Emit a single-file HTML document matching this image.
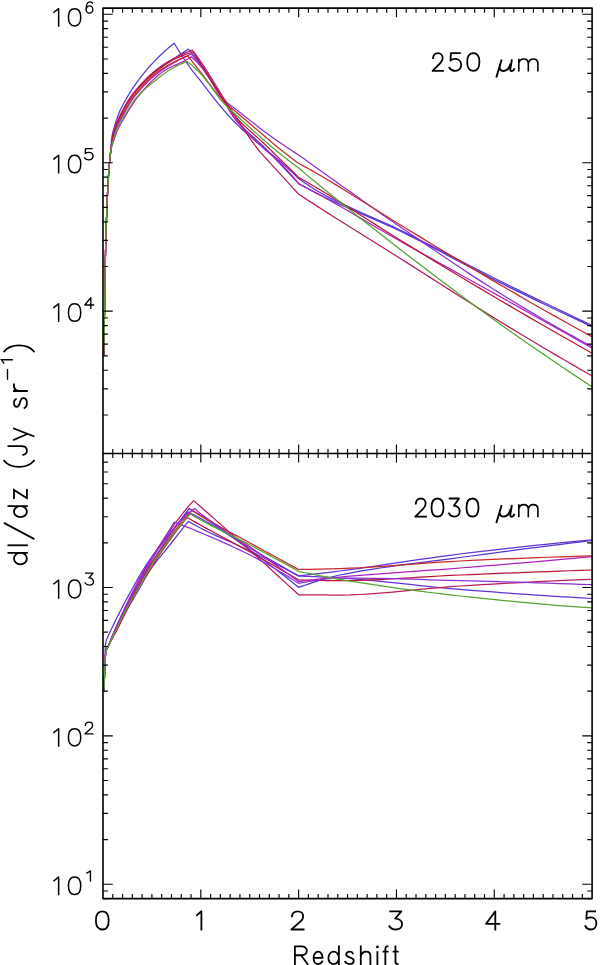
<!DOCTYPE html><html><head><meta charset="utf-8"><style>html,body{margin:0;padding:0;background:#fff;overflow:hidden;width:600px;height:965px;}svg{display:block;}text{font-family:"Liberation Sans",sans-serif;fill:#000;}</style></head><body>
<svg width="600" height="965" viewBox="0 0 600 965">
<rect width="600" height="965" fill="#fff"/>
<defs><clipPath id="cu"><rect x="103.0" y="8.2" width="489.1" height="445.4"/></clipPath>
<clipPath id="cl"><rect x="103.0" y="453.5" width="489.1" height="445.1"/></clipPath></defs>
<g clip-path="url(#cu)" fill="none" stroke-width="1.25" stroke-linejoin="round">
<polyline stroke="#6034d4" points="103.80,356.00 103.82,354.95 103.84,353.88 103.86,352.81 103.88,351.73 103.90,350.64 103.92,349.54 103.94,348.42 103.96,347.30 103.98,346.15 104.00,345.00 104.04,342.64 104.08,340.23 104.12,337.76 104.16,335.25 104.20,332.72 104.24,330.17 104.28,327.61 104.32,325.06 104.36,322.52 104.40,320.00 104.44,317.51 104.48,315.03 104.52,312.56 104.56,310.09 104.60,307.62 104.64,305.14 104.68,302.64 104.72,300.12 104.76,297.58 104.80,295.00 104.84,292.34 104.88,289.57 104.92,286.74 104.96,283.87 105.00,281.01 105.04,278.19 105.08,275.44 105.12,272.80 105.16,270.31 105.20,268.00 105.25,265.30 105.30,262.70 105.35,260.21 105.40,257.80 105.45,255.48 105.50,253.25 105.55,251.09 105.60,249.00 105.65,246.97 105.70,245.00 105.76,242.71 105.82,240.51 105.88,238.38 105.94,236.32 106.00,234.32 106.06,232.38 106.12,230.48 106.18,228.62 106.24,226.80 106.30,225.00 106.41,221.74 106.52,218.52 106.63,215.35 106.74,212.25 106.85,209.24 106.96,206.32 107.07,203.53 107.18,200.87 107.29,198.35 107.40,196.00 107.59,192.17 107.78,188.49 107.97,184.97 108.16,181.61 108.35,178.42 108.54,175.39 108.73,172.53 108.92,169.85 109.11,167.33 109.30,165.00 109.46,163.23 109.62,161.66 109.78,160.24 109.94,158.92 110.10,157.64 110.26,156.35 110.42,155.00 110.58,153.52 110.74,151.87 110.90,150.00 110.96,149.16 111.02,148.16 111.08,147.06 111.14,145.89 111.20,144.70 111.26,143.53 111.32,142.44 111.38,141.45 111.44,140.63 111.50,140.00 111.70,138.41 111.90,137.04 112.10,135.85 112.30,134.81 112.50,133.88 112.70,133.05 112.90,132.28 113.10,131.53 113.30,130.78 113.50,130.00 113.80,128.81 114.10,127.69 114.40,126.61 114.70,125.58 115.00,124.59 115.30,123.63 115.60,122.70 115.90,121.79 116.20,120.89 116.50,120.00 116.88,118.89 117.26,117.79 117.64,116.72 118.02,115.67 118.40,114.65 118.78,113.66 119.16,112.69 119.54,111.76 119.92,110.86 120.30,110.00 120.83,108.85 121.36,107.76 121.89,106.70 122.42,105.69 122.95,104.70 123.48,103.74 124.01,102.80 124.54,101.87 125.07,100.94 125.60,100.00 126.20,98.94 126.80,97.89 127.40,96.86 128.00,95.84 128.60,94.83 129.20,93.83 129.80,92.85 130.40,91.88 131.00,90.93 131.60,90.00 132.30,88.93 133.00,87.88 133.70,86.85 134.40,85.83 135.10,84.83 135.80,83.84 136.50,82.86 137.20,81.90 137.90,80.94 138.60,80.00 139.39,78.94 140.18,77.90 140.97,76.87 141.76,75.84 142.55,74.84 143.34,73.84 144.13,72.86 144.92,71.89 145.71,70.94 146.50,70.00 147.41,68.93 148.32,67.88 149.23,66.84 150.14,65.81 151.05,64.80 151.96,63.80 152.87,62.83 153.78,61.86 154.69,60.92 155.60,60.00 157.46,58.15 159.32,56.32 161.18,54.53 163.04,52.78 164.90,51.06 166.76,49.39 168.62,47.76 170.48,46.19 172.34,44.67 174.20,43.20 176.17,46.52 178.15,49.76 180.12,52.91 182.10,55.98 184.07,58.98 186.05,61.89 188.03,64.73 190.00,67.50 191.25,69.19 192.50,70.83 193.75,72.42 195.00,73.98 196.25,75.53 197.50,77.07 198.75,78.62 200.00,80.20 202.43,83.31 204.85,86.47 207.28,89.63 209.70,92.80 212.12,95.94 214.55,99.03 216.97,102.06 219.40,105.00 221.35,107.32 223.30,109.62 225.25,111.89 227.20,114.12 229.15,116.31 231.10,118.44 233.05,120.51 235.00,122.50 238.75,126.17 242.50,129.69 246.25,133.09 250.00,136.38 253.75,139.59 257.50,142.75 261.25,145.88 265.00,149.00 266.25,150.03 267.50,151.02 268.75,152.01 270.00,152.98 271.25,153.96 272.50,154.95 273.75,155.96 275.00,157.00 277.95,159.52 280.91,162.08 283.87,164.70 286.82,167.36 289.77,170.08 292.73,172.86 295.69,175.70 298.64,178.60 300.78,180.07 302.91,181.55 305.05,183.01 307.18,184.46 309.32,185.89 311.46,187.29 313.59,188.66 315.73,189.99 317.86,191.27 320.00,192.50 328.00,196.84 336.00,200.91 344.00,204.76 352.00,208.44 360.00,212.00 368.00,215.50 376.00,219.00 384.00,222.55 392.00,226.19 400.00,230.00 410.00,234.93 420.00,239.96 430.00,245.06 440.00,250.21 450.00,255.40 460.00,260.59 470.00,265.77 480.00,270.91 490.00,275.99 500.00,281.00 509.21,285.56 518.42,290.09 527.63,294.60 536.84,299.08 546.05,303.55 555.26,307.98 564.47,312.40 573.68,316.79 582.89,321.16 592.10,325.50"/>
<polyline stroke="#5434d0" points="103.80,356.00 103.82,354.95 103.84,353.88 103.86,352.81 103.88,351.73 103.90,350.64 103.92,349.54 103.94,348.42 103.96,347.30 103.98,346.15 104.00,345.00 104.04,342.64 104.08,340.23 104.12,337.76 104.16,335.25 104.20,332.72 104.24,330.17 104.28,327.61 104.32,325.06 104.36,322.52 104.40,320.00 104.44,317.51 104.48,315.03 104.52,312.56 104.56,310.09 104.60,307.62 104.64,305.14 104.68,302.64 104.72,300.12 104.76,297.58 104.80,295.00 104.84,292.34 104.88,289.57 104.92,286.74 104.96,283.87 105.00,281.01 105.04,278.19 105.08,275.44 105.12,272.80 105.16,270.31 105.20,268.00 105.25,265.30 105.30,262.70 105.35,260.21 105.40,257.80 105.45,255.48 105.50,253.25 105.55,251.09 105.60,249.00 105.65,246.97 105.70,245.00 105.76,242.71 105.82,240.51 105.88,238.38 105.94,236.32 106.00,234.32 106.06,232.38 106.12,230.48 106.18,228.62 106.24,226.80 106.30,225.00 106.41,221.74 106.52,218.52 106.63,215.35 106.74,212.25 106.85,209.24 106.96,206.32 107.07,203.53 107.18,200.87 107.29,198.35 107.40,196.00 107.59,192.17 107.78,188.49 107.97,184.97 108.16,181.61 108.35,178.42 108.54,175.39 108.73,172.53 108.92,169.85 109.11,167.33 109.30,165.00 109.46,163.18 109.62,161.47 109.78,159.87 109.94,158.35 110.10,156.90 110.26,155.49 110.42,154.12 110.58,152.76 110.74,151.39 110.90,150.00 111.02,148.93 111.14,147.84 111.26,146.73 111.38,145.64 111.50,144.57 111.62,143.53 111.74,142.54 111.86,141.61 111.98,140.76 112.10,140.00 112.33,138.69 112.56,137.47 112.79,136.33 113.02,135.26 113.25,134.26 113.48,133.32 113.71,132.44 113.94,131.59 114.17,130.78 114.40,130.00 114.78,128.77 115.16,127.61 115.54,126.52 115.92,125.49 116.30,124.51 116.68,123.56 117.06,122.65 117.44,121.76 117.82,120.88 118.20,120.00 118.69,118.88 119.18,117.80 119.67,116.75 120.16,115.72 120.65,114.72 121.14,113.74 121.63,112.78 122.12,111.84 122.61,110.92 123.10,110.00 123.69,108.91 124.28,107.84 124.87,106.79 125.46,105.75 126.05,104.74 126.64,103.74 127.23,102.77 127.82,101.82 128.41,100.90 129.00,100.00 129.75,98.89 130.50,97.81 131.25,96.75 132.00,95.73 132.75,94.72 133.50,93.74 134.25,92.78 135.00,91.83 135.75,90.91 136.50,90.00 137.42,88.91 138.34,87.83 139.26,86.78 140.18,85.75 141.10,84.74 142.02,83.76 142.94,82.79 143.86,81.84 144.78,80.91 145.70,80.00 146.83,78.90 147.96,77.82 149.09,76.76 150.22,75.72 151.35,74.70 152.48,73.70 153.61,72.73 154.74,71.79 155.87,70.88 157.00,70.00 158.50,68.88 160.00,67.81 161.50,66.78 163.00,65.79 164.50,64.82 166.00,63.86 167.50,62.91 169.00,61.95 170.50,60.99 172.00,60.00 173.63,58.91 175.26,57.82 176.89,56.73 178.52,55.64 180.15,54.55 181.78,53.46 183.41,52.37 185.04,51.28 186.67,50.19 188.30,49.10 189.76,50.67 191.23,52.28 192.69,53.94 194.15,55.64 195.61,57.40 197.07,59.21 198.54,61.08 200.00,63.00 203.00,67.18 206.00,71.66 209.00,76.37 212.00,81.24 215.00,86.21 218.00,91.21 221.00,96.16 224.00,101.00 225.38,103.23 226.75,105.54 228.12,107.88 229.50,110.20 230.88,112.47 232.25,114.63 233.62,116.66 235.00,118.50 238.75,122.97 242.50,126.99 246.25,130.68 250.00,134.15 253.75,137.50 257.50,140.86 261.25,144.32 265.00,148.00 266.25,149.28 267.50,150.58 268.75,151.89 270.00,153.21 271.25,154.53 272.50,155.85 273.75,157.18 275.00,158.50 277.95,161.62 280.91,164.74 283.87,167.87 286.82,171.01 289.77,174.14 292.73,177.29 295.69,180.44 298.64,183.60 300.78,184.78 302.91,185.95 305.05,187.13 307.18,188.29 309.32,189.45 311.46,190.59 313.59,191.72 315.73,192.83 317.86,193.93 320.00,195.00 328.00,198.88 336.00,202.60 344.00,206.20 352.00,209.71 360.00,213.17 368.00,216.62 376.00,220.09 384.00,223.62 392.00,227.24 400.00,231.00 410.00,235.88 420.00,240.92 430.00,246.07 440.00,251.30 450.00,256.59 460.00,261.89 470.00,267.18 480.00,272.41 490.00,277.57 500.00,282.60 509.21,287.16 518.42,291.68 527.63,296.17 536.84,300.63 546.05,305.06 555.26,309.45 564.47,313.81 573.68,318.14 582.89,322.44 592.10,326.70"/>
<polyline stroke="#8c30d8" points="103.80,356.00 103.82,354.95 103.84,353.88 103.86,352.81 103.88,351.73 103.90,350.64 103.92,349.54 103.94,348.42 103.96,347.30 103.98,346.15 104.00,345.00 104.04,342.64 104.08,340.23 104.12,337.76 104.16,335.25 104.20,332.72 104.24,330.17 104.28,327.61 104.32,325.06 104.36,322.52 104.40,320.00 104.44,317.51 104.48,315.03 104.52,312.56 104.56,310.09 104.60,307.62 104.64,305.14 104.68,302.64 104.72,300.12 104.76,297.58 104.80,295.00 104.84,292.34 104.88,289.57 104.92,286.74 104.96,283.87 105.00,281.01 105.04,278.19 105.08,275.44 105.12,272.80 105.16,270.31 105.20,268.00 105.25,265.30 105.30,262.70 105.35,260.21 105.40,257.80 105.45,255.48 105.50,253.25 105.55,251.09 105.60,249.00 105.65,246.97 105.70,245.00 105.76,242.71 105.82,240.51 105.88,238.38 105.94,236.32 106.00,234.32 106.06,232.38 106.12,230.48 106.18,228.62 106.24,226.80 106.30,225.00 106.41,221.74 106.52,218.52 106.63,215.35 106.74,212.25 106.85,209.24 106.96,206.32 107.07,203.53 107.18,200.87 107.29,198.35 107.40,196.00 107.59,192.17 107.78,188.49 107.97,184.97 108.16,181.61 108.35,178.42 108.54,175.39 108.73,172.53 108.92,169.85 109.11,167.33 109.30,165.00 109.46,163.15 109.62,161.38 109.78,159.69 109.94,158.07 110.10,156.54 110.26,155.08 110.42,153.70 110.58,152.39 110.74,151.16 110.90,150.00 111.08,148.77 111.26,147.60 111.44,146.49 111.62,145.43 111.80,144.42 111.98,143.45 112.16,142.53 112.34,141.65 112.52,140.81 112.70,140.00 112.98,138.78 113.26,137.61 113.54,136.49 113.82,135.41 114.10,134.38 114.38,133.39 114.66,132.46 114.94,131.59 115.22,130.77 115.50,130.00 116.00,128.74 116.50,127.58 117.00,126.50 117.50,125.50 118.00,124.55 118.50,123.63 119.00,122.73 119.50,121.84 120.00,120.93 120.50,120.00 121.05,118.96 121.60,117.92 122.15,116.90 122.70,115.89 123.25,114.89 123.80,113.89 124.35,112.91 124.90,111.93 125.45,110.96 126.00,110.00 126.60,108.95 127.20,107.90 127.80,106.85 128.40,105.80 129.00,104.77 129.60,103.76 130.20,102.77 130.80,101.81 131.40,100.89 132.00,100.00 132.80,98.87 133.60,97.78 134.40,96.73 135.20,95.70 136.00,94.71 136.80,93.74 137.60,92.78 138.40,91.84 139.20,90.92 140.00,90.00 140.95,88.92 141.90,87.84 142.85,86.79 143.80,85.75 144.75,84.73 145.70,83.73 146.65,82.75 147.60,81.80 148.55,80.89 149.50,80.00 150.75,78.87 152.00,77.77 153.25,76.70 154.50,75.65 155.75,74.64 157.00,73.65 158.25,72.70 159.50,71.77 160.75,70.87 162.00,70.00 163.70,68.86 165.40,67.77 167.10,66.71 168.80,65.69 170.50,64.69 172.20,63.72 173.90,62.77 175.60,61.84 177.30,60.92 179.00,60.00 180.20,59.36 181.40,58.73 182.60,58.11 183.80,57.49 185.00,56.89 186.20,56.29 187.40,55.71 188.60,55.13 189.80,54.56 191.00,54.00 192.12,55.14 193.25,56.31 194.38,57.50 195.50,58.73 196.62,59.99 197.75,61.28 198.88,62.62 200.00,64.00 203.00,68.09 206.00,72.73 209.00,77.71 212.00,82.80 215.00,87.79 218.00,92.47 221.00,96.61 224.00,100.00 225.38,101.28 226.75,102.45 228.12,103.52 229.50,104.53 230.88,105.51 232.25,106.48 233.62,107.46 235.00,108.50 238.75,111.44 242.50,114.40 246.25,117.39 250.00,120.37 253.75,123.34 257.50,126.28 261.25,129.17 265.00,132.00 266.25,132.93 267.50,133.85 268.75,134.76 270.00,135.66 271.25,136.56 272.50,137.44 273.75,138.33 275.00,139.20 277.95,141.25 280.91,143.28 283.87,145.30 286.82,147.29 289.77,149.26 292.73,151.20 295.69,153.12 298.64,155.00 300.78,156.54 302.91,158.07 305.05,159.60 307.18,161.14 309.32,162.67 311.46,164.20 313.59,165.73 315.73,167.25 317.86,168.78 320.00,170.30 328.00,176.00 336.00,181.70 344.00,187.40 352.00,193.09 360.00,198.76 368.00,204.41 376.00,210.04 384.00,215.64 392.00,221.19 400.00,226.70 410.00,233.56 420.00,240.42 430.00,247.26 440.00,254.07 450.00,260.83 460.00,267.52 470.00,274.13 480.00,280.64 490.00,287.04 500.00,293.30 509.21,298.97 518.42,304.57 527.63,310.09 536.84,315.55 546.05,320.93 555.26,326.24 564.47,331.47 573.68,336.62 582.89,341.70 592.10,346.70"/>
<polyline stroke="#b020c0" points="103.80,356.00 103.82,354.95 103.84,353.88 103.86,352.81 103.88,351.73 103.90,350.64 103.92,349.54 103.94,348.42 103.96,347.30 103.98,346.15 104.00,345.00 104.04,342.64 104.08,340.23 104.12,337.76 104.16,335.25 104.20,332.72 104.24,330.17 104.28,327.61 104.32,325.06 104.36,322.52 104.40,320.00 104.44,317.51 104.48,315.03 104.52,312.56 104.56,310.09 104.60,307.62 104.64,305.14 104.68,302.64 104.72,300.12 104.76,297.58 104.80,295.00 104.84,292.34 104.88,289.57 104.92,286.74 104.96,283.87 105.00,281.01 105.04,278.19 105.08,275.44 105.12,272.80 105.16,270.31 105.20,268.00 105.25,265.30 105.30,262.70 105.35,260.21 105.40,257.80 105.45,255.48 105.50,253.25 105.55,251.09 105.60,249.00 105.65,246.97 105.70,245.00 105.76,242.71 105.82,240.51 105.88,238.38 105.94,236.32 106.00,234.32 106.06,232.38 106.12,230.48 106.18,228.62 106.24,226.80 106.30,225.00 106.41,221.74 106.52,218.52 106.63,215.35 106.74,212.25 106.85,209.24 106.96,206.32 107.07,203.53 107.18,200.87 107.29,198.35 107.40,196.00 107.59,192.17 107.78,188.49 107.97,184.97 108.16,181.61 108.35,178.42 108.54,175.39 108.73,172.53 108.92,169.85 109.11,167.33 109.30,165.00 109.46,163.12 109.62,161.28 109.78,159.49 109.94,157.78 110.10,156.15 110.26,154.63 110.42,153.24 110.58,151.99 110.74,150.91 110.90,150.00 111.21,148.53 111.52,147.25 111.83,146.13 112.14,145.12 112.45,144.21 112.76,143.37 113.07,142.55 113.38,141.74 113.69,140.90 114.00,140.00 114.35,138.93 114.70,137.85 115.05,136.78 115.40,135.71 115.75,134.66 116.10,133.64 116.45,132.65 116.80,131.71 117.15,130.82 117.50,130.00 118.05,128.80 118.60,127.68 119.15,126.62 119.70,125.61 120.25,124.64 120.80,123.71 121.35,122.78 121.90,121.87 122.45,120.94 123.00,120.00 123.60,118.96 124.20,117.93 124.80,116.91 125.40,115.90 126.00,114.90 126.60,113.90 127.20,112.91 127.80,111.94 128.40,110.96 129.00,110.00 129.65,108.96 130.30,107.92 130.95,106.88 131.60,105.85 132.25,104.82 132.90,103.82 133.55,102.83 134.20,101.86 134.85,100.92 135.50,100.00 136.30,98.91 137.10,97.84 137.90,96.79 138.70,95.77 139.50,94.76 140.30,93.78 141.10,92.81 141.90,91.86 142.70,90.92 143.50,90.00 144.45,88.92 145.40,87.84 146.35,86.79 147.30,85.75 148.25,84.73 149.20,83.73 150.15,82.75 151.10,81.80 152.05,80.89 153.00,80.00 154.25,78.86 155.50,77.74 156.75,76.65 158.00,75.58 159.25,74.54 160.50,73.53 161.75,72.58 163.00,71.66 164.25,70.80 165.50,70.00 167.55,68.80 169.60,67.70 171.65,66.70 173.70,65.75 175.75,64.84 177.80,63.95 179.85,63.04 181.90,62.10 183.95,61.09 186.00,60.00 186.52,59.71 187.04,59.40 187.56,59.09 188.08,58.78 188.60,58.45 189.12,58.13 189.64,57.80 190.16,57.47 190.68,57.13 191.20,56.80 192.30,57.75 193.40,58.74 194.50,59.76 195.60,60.82 196.70,61.92 197.80,63.06 198.90,64.26 200.00,65.50 203.00,69.19 206.00,73.28 209.00,77.68 212.00,82.32 215.00,87.10 218.00,91.94 221.00,96.77 224.00,101.50 225.38,103.69 226.75,105.97 228.12,108.29 229.50,110.62 230.88,112.89 232.25,115.08 233.62,117.13 235.00,119.00 238.75,123.62 242.50,127.90 246.25,131.89 250.00,135.64 253.75,139.23 257.50,142.69 261.25,146.10 265.00,149.50 266.25,150.61 267.50,151.67 268.75,152.70 270.00,153.72 271.25,154.74 272.50,155.78 273.75,156.86 275.00,158.00 277.95,160.82 280.91,163.73 283.87,166.76 286.82,169.89 289.77,173.13 292.73,176.49 295.69,179.98 298.64,183.60 300.78,184.72 302.91,185.85 305.05,186.97 307.18,188.10 309.32,189.23 311.46,190.37 313.59,191.52 315.73,192.67 317.86,193.83 320.00,195.00 328.00,199.44 336.00,203.96 344.00,208.55 352.00,213.18 360.00,217.84 368.00,222.51 376.00,227.18 384.00,231.83 392.00,236.44 400.00,241.00 410.00,246.64 420.00,252.24 430.00,257.82 440.00,263.37 450.00,268.91 460.00,274.44 470.00,279.97 480.00,285.50 490.00,291.04 500.00,296.60 509.21,301.73 518.42,306.86 527.63,312.00 536.84,317.14 546.05,322.28 555.26,327.42 564.47,332.56 573.68,337.71 582.89,342.85 592.10,348.00"/>
<polyline stroke="#c82828" points="103.80,356.00 103.82,354.95 103.84,353.88 103.86,352.81 103.88,351.73 103.90,350.64 103.92,349.54 103.94,348.42 103.96,347.30 103.98,346.15 104.00,345.00 104.04,342.64 104.08,340.23 104.12,337.76 104.16,335.25 104.20,332.72 104.24,330.17 104.28,327.61 104.32,325.06 104.36,322.52 104.40,320.00 104.44,317.51 104.48,315.03 104.52,312.56 104.56,310.09 104.60,307.62 104.64,305.14 104.68,302.64 104.72,300.12 104.76,297.58 104.80,295.00 104.84,292.34 104.88,289.57 104.92,286.74 104.96,283.87 105.00,281.01 105.04,278.19 105.08,275.44 105.12,272.80 105.16,270.31 105.20,268.00 105.25,265.30 105.30,262.70 105.35,260.21 105.40,257.80 105.45,255.48 105.50,253.25 105.55,251.09 105.60,249.00 105.65,246.97 105.70,245.00 105.76,242.71 105.82,240.51 105.88,238.38 105.94,236.32 106.00,234.32 106.06,232.38 106.12,230.48 106.18,228.62 106.24,226.80 106.30,225.00 106.41,221.74 106.52,218.52 106.63,215.35 106.74,212.25 106.85,209.24 106.96,206.32 107.07,203.53 107.18,200.87 107.29,198.35 107.40,196.00 107.59,192.17 107.78,188.49 107.97,184.97 108.16,181.61 108.35,178.42 108.54,175.39 108.73,172.53 108.92,169.85 109.11,167.33 109.30,165.00 109.46,163.16 109.62,161.40 109.78,159.74 109.94,158.15 110.10,156.64 110.26,155.19 110.42,153.81 110.58,152.49 110.74,151.22 110.90,150.00 111.06,148.82 111.22,147.68 111.38,146.58 111.54,145.51 111.70,144.49 111.86,143.51 112.02,142.57 112.18,141.67 112.34,140.81 112.50,140.00 112.75,138.78 113.00,137.61 113.25,136.48 113.50,135.40 113.75,134.37 114.00,133.39 114.25,132.46 114.50,131.58 114.75,130.76 115.00,130.00 115.45,128.73 115.90,127.56 116.35,126.47 116.80,125.44 117.25,124.48 117.70,123.55 118.15,122.65 118.60,121.77 119.05,120.89 119.50,120.00 120.05,118.91 120.60,117.85 121.15,116.82 121.70,115.81 122.25,114.82 122.80,113.84 123.35,112.87 123.90,111.91 124.45,110.96 125.00,110.00 125.60,108.95 126.20,107.90 126.80,106.85 127.40,105.80 128.00,104.77 128.60,103.76 129.20,102.77 129.80,101.81 130.40,100.89 131.00,100.00 131.80,98.87 132.60,97.78 133.40,96.73 134.20,95.70 135.00,94.71 135.80,93.74 136.60,92.78 137.40,91.84 138.20,90.92 139.00,90.00 139.95,88.92 140.90,87.85 141.85,86.80 142.80,85.76 143.75,84.75 144.70,83.75 145.65,82.78 146.60,81.83 147.55,80.90 148.50,80.00 149.70,78.89 150.90,77.79 152.10,76.71 153.30,75.66 154.50,74.63 155.70,73.63 156.90,72.66 158.10,71.73 159.30,70.85 160.50,70.00 162.25,68.82 164.00,67.68 165.75,66.59 167.50,65.53 169.25,64.51 171.00,63.53 172.75,62.60 174.50,61.69 176.25,60.83 178.00,60.00 179.00,59.54 180.00,59.10 181.00,58.67 182.00,58.25 183.00,57.84 184.00,57.45 185.00,57.07 186.00,56.70 187.00,56.34 188.00,56.00 189.50,57.96 191.00,59.91 192.50,61.86 194.00,63.80 195.50,65.74 197.00,67.66 198.50,69.59 200.00,71.50 203.00,75.38 206.00,79.36 209.00,83.36 212.00,87.32 215.00,91.18 218.00,94.87 221.00,98.33 224.00,101.50 225.38,102.83 226.75,104.09 228.12,105.29 229.50,106.44 230.88,107.58 232.25,108.70 233.62,109.84 235.00,111.00 238.75,114.21 242.50,117.41 246.25,120.60 250.00,123.78 253.75,126.96 257.50,130.14 261.25,133.32 265.00,136.50 266.25,137.57 267.50,138.64 268.75,139.72 270.00,140.79 271.25,141.86 272.50,142.92 273.75,143.97 275.00,145.00 277.95,147.40 280.91,149.77 283.87,152.12 286.82,154.43 289.77,156.71 292.73,158.95 295.69,161.15 298.64,163.30 300.78,164.48 302.91,165.65 305.05,166.83 307.18,168.02 309.32,169.21 311.46,170.41 313.59,171.62 315.73,172.83 317.86,174.06 320.00,175.30 328.00,180.02 336.00,184.85 344.00,189.76 352.00,194.73 360.00,199.74 368.00,204.77 376.00,209.81 384.00,214.82 392.00,219.79 400.00,224.70 410.00,230.79 420.00,236.87 430.00,242.94 440.00,249.00 450.00,255.03 460.00,261.04 470.00,267.01 480.00,272.95 490.00,278.85 500.00,284.70 509.21,290.05 518.42,295.37 527.63,300.67 536.84,305.93 546.05,311.17 555.26,316.37 564.47,321.55 573.68,326.69 582.89,331.81 592.10,336.90"/>
<polyline stroke="#bc1438" points="103.80,356.00 103.82,354.95 103.84,353.88 103.86,352.81 103.88,351.73 103.90,350.64 103.92,349.54 103.94,348.42 103.96,347.30 103.98,346.15 104.00,345.00 104.04,342.64 104.08,340.23 104.12,337.76 104.16,335.25 104.20,332.72 104.24,330.17 104.28,327.61 104.32,325.06 104.36,322.52 104.40,320.00 104.44,317.51 104.48,315.03 104.52,312.56 104.56,310.09 104.60,307.62 104.64,305.14 104.68,302.64 104.72,300.12 104.76,297.58 104.80,295.00 104.84,292.34 104.88,289.57 104.92,286.74 104.96,283.87 105.00,281.01 105.04,278.19 105.08,275.44 105.12,272.80 105.16,270.31 105.20,268.00 105.25,265.30 105.30,262.70 105.35,260.21 105.40,257.80 105.45,255.48 105.50,253.25 105.55,251.09 105.60,249.00 105.65,246.97 105.70,245.00 105.76,242.71 105.82,240.51 105.88,238.38 105.94,236.32 106.00,234.32 106.06,232.38 106.12,230.48 106.18,228.62 106.24,226.80 106.30,225.00 106.41,221.74 106.52,218.52 106.63,215.35 106.74,212.25 106.85,209.24 106.96,206.32 107.07,203.53 107.18,200.87 107.29,198.35 107.40,196.00 107.59,192.17 107.78,188.49 107.97,184.97 108.16,181.61 108.35,178.42 108.54,175.39 108.73,172.53 108.92,169.85 109.11,167.33 109.30,165.00 109.46,163.17 109.62,161.45 109.78,159.83 109.94,158.29 110.10,156.82 110.26,155.41 110.42,154.03 110.58,152.68 110.74,151.34 110.90,150.00 111.03,148.90 111.16,147.80 111.29,146.70 111.42,145.62 111.55,144.56 111.68,143.54 111.81,142.56 111.94,141.64 112.07,140.78 112.20,140.00 112.43,138.73 112.66,137.52 112.89,136.38 113.12,135.31 113.35,134.30 113.58,133.34 113.81,132.43 114.04,131.58 114.27,130.77 114.50,130.00 114.90,128.75 115.30,127.58 115.70,126.49 116.10,125.46 116.50,124.49 116.90,123.56 117.30,122.65 117.70,121.77 118.10,120.89 118.50,120.00 119.00,118.90 119.50,117.82 120.00,116.77 120.50,115.75 121.00,114.74 121.50,113.76 122.00,112.80 122.50,111.85 123.00,110.92 123.50,110.00 124.10,108.91 124.70,107.85 125.30,106.79 125.90,105.76 126.50,104.75 127.10,103.76 127.70,102.78 128.30,101.83 128.90,100.90 129.50,100.00 130.25,98.90 131.00,97.82 131.75,96.76 132.50,95.72 133.25,94.71 134.00,93.73 134.75,92.76 135.50,91.82 136.25,90.90 137.00,90.00 137.95,88.89 138.90,87.81 139.85,86.76 140.80,85.73 141.75,84.73 142.70,83.75 143.65,82.79 144.60,81.84 145.55,80.91 146.50,80.00 147.65,78.91 148.80,77.83 149.95,76.78 151.10,75.74 152.25,74.72 153.40,73.72 154.55,72.75 155.70,71.81 156.85,70.89 158.00,70.00 159.50,68.87 161.00,67.74 162.50,66.64 164.00,65.56 165.50,64.51 167.00,63.50 168.50,62.54 170.00,61.63 171.50,60.78 173.00,60.00 175.05,58.99 177.10,58.01 179.15,57.07 181.20,56.16 183.25,55.31 185.30,54.51 187.35,53.78 189.40,53.11 191.45,52.51 193.50,52.00 194.31,53.32 195.12,54.64 195.94,55.95 196.75,57.27 197.56,58.58 198.38,59.89 199.19,61.20 200.00,62.50 203.00,67.33 206.00,72.18 209.00,77.03 212.00,81.87 215.00,86.65 218.00,91.37 221.00,95.99 224.00,100.50 225.38,102.55 226.75,104.61 228.12,106.66 229.50,108.68 230.88,110.64 232.25,112.53 233.62,114.32 235.00,116.00 238.75,120.19 242.50,124.04 246.25,127.62 250.00,131.03 253.75,134.34 257.50,137.64 261.25,140.99 265.00,144.50 266.25,145.70 267.50,146.91 268.75,148.12 270.00,149.33 271.25,150.55 272.50,151.76 273.75,152.98 275.00,154.20 277.95,157.08 280.91,159.97 283.87,162.86 286.82,165.76 289.77,168.66 292.73,171.57 295.69,174.48 298.64,177.40 300.78,178.61 302.91,179.82 305.05,181.03 307.18,182.24 309.32,183.47 311.46,184.69 313.59,185.93 315.73,187.18 317.86,188.43 320.00,189.70 328.00,194.53 336.00,199.46 344.00,204.47 352.00,209.54 360.00,214.66 368.00,219.78 376.00,224.90 384.00,229.99 392.00,235.03 400.00,240.00 410.00,246.14 420.00,252.26 430.00,258.35 440.00,264.41 450.00,270.44 460.00,276.45 470.00,282.43 480.00,288.38 490.00,294.30 500.00,300.20 509.21,305.61 518.42,310.99 527.63,316.35 536.84,321.68 546.05,326.99 555.26,332.28 564.47,337.55 573.68,342.79 582.89,348.01 592.10,353.20"/>
<polyline stroke="#b81c5c" points="103.80,356.00 103.82,354.95 103.84,353.88 103.86,352.81 103.88,351.73 103.90,350.64 103.92,349.54 103.94,348.42 103.96,347.30 103.98,346.15 104.00,345.00 104.04,342.64 104.08,340.23 104.12,337.76 104.16,335.25 104.20,332.72 104.24,330.17 104.28,327.61 104.32,325.06 104.36,322.52 104.40,320.00 104.44,317.51 104.48,315.03 104.52,312.56 104.56,310.09 104.60,307.62 104.64,305.14 104.68,302.64 104.72,300.12 104.76,297.58 104.80,295.00 104.84,292.34 104.88,289.57 104.92,286.74 104.96,283.87 105.00,281.01 105.04,278.19 105.08,275.44 105.12,272.80 105.16,270.31 105.20,268.00 105.25,265.30 105.30,262.70 105.35,260.21 105.40,257.80 105.45,255.48 105.50,253.25 105.55,251.09 105.60,249.00 105.65,246.97 105.70,245.00 105.76,242.71 105.82,240.51 105.88,238.38 105.94,236.32 106.00,234.32 106.06,232.38 106.12,230.48 106.18,228.62 106.24,226.80 106.30,225.00 106.41,221.74 106.52,218.52 106.63,215.35 106.74,212.25 106.85,209.24 106.96,206.32 107.07,203.53 107.18,200.87 107.29,198.35 107.40,196.00 107.59,192.17 107.78,188.49 107.97,184.97 108.16,181.61 108.35,178.42 108.54,175.39 108.73,172.53 108.92,169.85 109.11,167.33 109.30,165.00 109.46,163.18 109.62,161.49 109.78,159.91 109.94,158.41 110.10,156.98 110.26,155.59 110.42,154.22 110.58,152.84 110.74,151.45 110.90,150.00 111.01,148.96 111.12,147.88 111.23,146.77 111.34,145.67 111.45,144.58 111.56,143.52 111.67,142.51 111.78,141.58 111.89,140.74 112.00,140.00 112.23,138.65 112.46,137.40 112.69,136.26 112.92,135.20 113.15,134.21 113.38,133.29 113.61,132.42 113.84,131.59 114.07,130.79 114.30,130.00 114.67,128.78 115.04,127.63 115.41,126.55 115.78,125.51 116.15,124.52 116.52,123.57 116.89,122.66 117.26,121.76 117.63,120.88 118.00,120.00 118.48,118.88 118.96,117.80 119.44,116.75 119.92,115.72 120.40,114.73 120.88,113.75 121.36,112.79 121.84,111.85 122.32,110.92 122.80,110.00 123.37,108.92 123.94,107.84 124.51,106.79 125.08,105.75 125.65,104.73 126.22,103.73 126.79,102.75 127.36,101.80 127.93,100.89 128.50,100.00 129.25,98.88 130.00,97.79 130.75,96.73 131.50,95.71 132.25,94.71 133.00,93.73 133.75,92.78 134.50,91.84 135.25,90.92 136.00,90.00 136.90,88.92 137.80,87.85 138.70,86.80 139.60,85.77 140.50,84.76 141.40,83.77 142.30,82.80 143.20,81.85 144.10,80.91 145.00,80.00 146.10,78.90 147.20,77.82 148.30,76.75 149.40,75.71 150.50,74.69 151.60,73.69 152.70,72.72 153.80,71.78 154.90,70.87 156.00,70.00 157.50,68.85 159.00,67.74 160.50,66.65 162.00,65.60 163.50,64.58 165.00,63.59 166.50,62.64 168.00,61.72 169.50,60.84 171.00,60.00 173.13,58.84 175.26,57.71 177.39,56.61 179.52,55.56 181.65,54.54 183.78,53.56 185.91,52.64 188.04,51.77 190.17,50.95 192.30,50.20 193.26,51.43 194.23,52.68 195.19,53.93 196.15,55.20 197.11,56.49 198.07,57.80 199.04,59.14 200.00,60.50 203.00,64.90 206.00,69.51 209.00,74.25 212.00,79.10 215.00,84.00 218.00,88.90 221.00,93.75 224.00,98.50 225.38,100.65 226.75,102.79 228.12,104.94 229.50,107.07 230.88,109.20 232.25,111.31 233.62,113.41 235.00,115.50 237.94,119.98 240.88,124.52 243.81,129.06 246.75,133.55 249.69,137.94 252.62,142.18 255.56,146.22 258.50,150.00 259.62,151.36 260.75,152.66 261.88,153.92 263.00,155.15 264.12,156.36 265.25,157.56 266.38,158.77 267.50,160.00 271.39,164.30 275.28,168.60 279.18,172.89 283.07,177.17 286.96,181.44 290.86,185.70 294.75,189.96 298.64,194.20 300.78,195.59 302.91,196.97 305.05,198.36 307.18,199.75 309.32,201.13 311.46,202.51 313.59,203.89 315.73,205.26 317.86,206.63 320.00,208.00 328.00,213.10 336.00,218.16 344.00,223.20 352.00,228.23 360.00,233.24 368.00,238.24 376.00,243.24 384.00,248.25 392.00,253.27 400.00,258.30 410.00,264.63 420.00,270.99 430.00,277.37 440.00,283.76 450.00,290.14 460.00,296.51 470.00,302.84 480.00,309.12 490.00,315.35 500.00,321.50 509.21,327.11 518.42,332.68 527.63,338.22 536.84,343.73 546.05,349.19 555.26,354.63 564.47,360.02 573.68,365.38 582.89,370.71 592.10,376.00"/>
<polyline stroke="#56a430" points="103.80,356.00 103.82,354.95 103.84,353.88 103.86,352.81 103.88,351.73 103.90,350.64 103.92,349.54 103.94,348.42 103.96,347.30 103.98,346.15 104.00,345.00 104.04,342.64 104.08,340.23 104.12,337.76 104.16,335.25 104.20,332.72 104.24,330.17 104.28,327.61 104.32,325.06 104.36,322.52 104.40,320.00 104.44,317.51 104.48,315.03 104.52,312.56 104.56,310.09 104.60,307.62 104.64,305.14 104.68,302.64 104.72,300.12 104.76,297.58 104.80,295.00 104.84,292.34 104.88,289.57 104.92,286.74 104.96,283.87 105.00,281.01 105.04,278.19 105.08,275.44 105.12,272.80 105.16,270.31 105.20,268.00 105.25,265.30 105.30,262.70 105.35,260.21 105.40,257.80 105.45,255.48 105.50,253.25 105.55,251.09 105.60,249.00 105.65,246.97 105.70,245.00 105.76,242.71 105.82,240.51 105.88,238.38 105.94,236.32 106.00,234.32 106.06,232.38 106.12,230.48 106.18,228.62 106.24,226.80 106.30,225.00 106.41,221.74 106.52,218.52 106.63,215.35 106.74,212.25 106.85,209.24 106.96,206.32 107.07,203.53 107.18,200.87 107.29,198.35 107.40,196.00 107.59,192.17 107.78,188.49 107.97,184.97 108.16,181.61 108.35,178.42 108.54,175.39 108.73,172.53 108.92,169.85 109.11,167.33 109.30,165.00 109.46,163.13 109.62,161.31 109.78,159.55 109.94,157.86 110.10,156.27 110.26,154.76 110.42,153.38 110.58,152.11 110.74,150.98 110.90,150.00 111.16,148.62 111.42,147.38 111.68,146.27 111.94,145.26 112.20,144.33 112.46,143.45 112.72,142.60 112.98,141.76 113.24,140.90 113.50,140.00 113.80,138.92 114.10,137.82 114.40,136.72 114.70,135.63 115.00,134.57 115.30,133.54 115.60,132.55 115.90,131.63 116.20,130.77 116.50,130.00 117.05,128.73 117.60,127.56 118.15,126.48 118.70,125.48 119.25,124.53 119.80,123.62 120.35,122.73 120.90,121.84 121.45,120.94 122.00,120.00 122.60,118.96 123.20,117.93 123.80,116.91 124.40,115.90 125.00,114.90 125.60,113.90 126.20,112.91 126.80,111.94 127.40,110.96 128.00,110.00 128.65,108.95 129.30,107.89 129.95,106.83 130.60,105.77 131.25,104.73 131.90,103.70 132.55,102.71 133.20,101.76 133.85,100.85 134.50,100.00 135.45,98.83 136.40,97.71 137.35,96.63 138.30,95.60 139.25,94.61 140.20,93.64 141.15,92.71 142.10,91.79 143.05,90.89 144.00,90.00 145.20,88.90 146.40,87.83 147.60,86.79 148.80,85.77 150.00,84.78 151.20,83.80 152.40,82.84 153.60,81.89 154.80,80.94 156.00,80.00 157.35,78.93 158.70,77.86 160.05,76.79 161.40,75.72 162.75,74.67 164.10,73.65 165.45,72.67 166.80,71.72 168.15,70.83 169.50,70.00 171.25,68.98 173.00,67.98 174.75,67.02 176.50,66.09 178.25,65.20 180.00,64.36 181.75,63.56 183.50,62.82 185.25,62.13 187.00,61.50 188.62,62.74 190.25,64.04 191.88,65.39 193.50,66.80 195.12,68.27 196.75,69.79 198.38,71.36 200.00,73.00 203.00,76.31 206.00,80.02 209.00,83.99 212.00,88.11 215.00,92.25 218.00,96.27 221.00,100.06 224.00,103.50 225.38,104.94 226.75,106.32 228.12,107.65 229.50,108.94 230.88,110.21 232.25,111.47 233.62,112.73 235.00,114.00 238.75,117.47 242.50,120.91 246.25,124.32 250.00,127.70 253.75,131.06 257.50,134.39 261.25,137.71 265.00,141.00 266.25,142.10 267.50,143.19 268.75,144.28 270.00,145.37 271.25,146.44 272.50,147.51 273.75,148.56 275.00,149.60 277.95,152.02 280.91,154.41 283.87,156.77 286.82,159.10 289.77,161.39 292.73,163.64 295.69,165.84 298.64,168.00 300.78,169.80 302.91,171.60 305.05,173.39 307.18,175.18 309.32,176.97 311.46,178.75 313.59,180.52 315.73,182.29 317.86,184.05 320.00,185.80 328.00,192.31 336.00,198.78 344.00,205.21 352.00,211.60 360.00,217.96 368.00,224.28 376.00,230.56 384.00,236.81 392.00,243.02 400.00,249.20 410.00,256.89 420.00,264.56 430.00,272.19 440.00,279.79 450.00,287.33 460.00,294.81 470.00,302.23 480.00,309.57 490.00,316.83 500.00,324.00 509.21,330.53 518.42,337.01 527.63,343.42 536.84,349.78 546.05,356.08 555.26,362.33 564.47,368.51 573.68,374.63 582.89,380.70 592.10,386.70"/>
</g>
<g clip-path="url(#cl)" fill="none" stroke-width="1.25" stroke-linejoin="round">
<polyline stroke="#5434d0" points="104.00,692.00 104.05,690.26 104.10,688.56 104.15,686.88 104.20,685.23 104.25,683.61 104.30,682.02 104.35,680.46 104.40,678.94 104.45,677.45 104.50,676.00 104.55,674.55 104.60,673.10 104.65,671.65 104.70,670.22 104.75,668.83 104.80,667.49 104.85,666.22 104.90,665.04 104.95,663.96 105.00,663.00 105.08,661.58 105.16,660.20 105.24,658.87 105.32,657.61 105.40,656.44 105.48,655.37 105.56,654.43 105.64,653.62 105.72,652.97 105.80,652.50 106.07,651.33 106.34,650.37 106.61,649.58 106.88,648.93 107.15,648.37 107.42,647.88 107.69,647.41 107.96,646.94 108.23,646.41 108.50,645.80 109.15,644.19 109.80,642.57 110.45,640.95 111.10,639.33 111.75,637.72 112.40,636.12 113.05,634.54 113.70,632.99 114.35,631.47 115.00,630.00 115.98,627.84 116.96,625.73 117.94,623.66 118.92,621.64 119.90,619.65 120.88,617.68 121.86,615.74 122.84,613.82 123.82,611.91 124.80,610.00 125.88,607.92 126.96,605.86 128.04,603.82 129.12,601.81 130.20,599.81 131.28,597.83 132.36,595.86 133.44,593.90 134.52,591.95 135.60,590.00 136.74,587.95 137.88,585.89 139.02,583.85 140.16,581.81 141.30,579.79 142.44,577.78 143.58,575.80 144.72,573.84 145.86,571.90 147.00,570.00 148.28,567.90 149.56,565.82 150.84,563.77 152.12,561.74 153.40,559.74 154.68,557.76 155.96,555.80 157.24,553.85 158.52,551.92 159.80,550.00 162.74,545.63 165.68,541.29 168.62,537.00 171.56,532.76 174.50,528.56 177.44,524.42 180.38,520.34 183.32,516.33 186.26,512.38 189.20,508.50 190.28,509.13 191.36,509.76 192.44,510.40 193.52,511.04 194.60,511.68 195.68,512.33 196.76,512.98 197.84,513.65 198.92,514.32 200.00,515.00 205.00,518.23 210.00,521.54 215.00,524.94 220.00,528.39 225.00,531.91 230.00,535.47 235.00,539.07 240.00,542.69 245.00,546.34 250.00,550.00 254.86,553.58 259.73,557.19 264.59,560.84 269.46,564.52 274.32,568.24 279.18,571.99 284.05,575.77 288.91,579.58 293.78,583.42 298.64,587.30 302.09,586.14 305.53,584.98 308.98,583.82 312.43,582.69 315.87,581.57 319.32,580.48 322.77,579.43 326.21,578.43 329.66,577.48 333.11,576.58 336.55,575.75 340.00,575.00 350.00,573.02 360.00,571.21 370.00,569.54 380.00,568.00 390.00,566.56 400.00,565.19 410.00,563.89 420.00,562.63 430.00,561.38 440.00,560.12 450.00,558.84 460.00,557.50 471.01,556.00 482.02,554.51 493.02,553.04 504.03,551.59 515.04,550.14 526.05,548.72 537.06,547.31 548.07,545.91 559.08,544.53 570.08,543.17 581.09,541.83 592.10,540.50"/>
<polyline stroke="#6034d4" points="104.00,692.00 104.05,690.54 104.10,689.04 104.15,687.51 104.20,685.95 104.25,684.36 104.30,682.74 104.35,681.09 104.40,679.42 104.45,677.72 104.50,676.00 104.54,674.59 104.58,673.15 104.62,671.67 104.66,670.17 104.70,668.64 104.74,667.11 104.78,665.57 104.82,664.04 104.86,662.51 104.90,661.00 104.94,659.40 104.98,657.63 105.02,655.77 105.06,653.89 105.10,652.06 105.14,650.34 105.18,648.80 105.22,647.52 105.26,646.56 105.30,646.00 105.52,644.28 105.74,642.89 105.96,641.77 106.18,640.87 106.40,640.15 106.62,639.56 106.84,639.05 107.06,638.57 107.28,638.07 107.50,637.50 107.85,636.56 108.20,635.69 108.55,634.89 108.90,634.14 109.25,633.44 109.60,632.75 109.95,632.08 110.30,631.40 110.65,630.72 111.00,630.00 111.98,627.95 112.96,625.90 113.94,623.86 114.92,621.83 115.90,619.81 116.88,617.81 117.86,615.82 118.84,613.86 119.82,611.92 120.80,610.00 121.88,607.92 122.96,605.86 124.04,603.82 125.12,601.81 126.20,599.81 127.28,597.83 128.36,595.86 129.44,593.90 130.52,591.95 131.60,590.00 132.74,587.94 133.88,585.87 135.02,583.80 136.16,581.74 137.30,579.70 138.44,577.68 139.58,575.69 140.72,573.75 141.86,571.85 143.00,570.00 144.38,567.83 145.76,565.70 147.14,563.61 148.52,561.57 149.90,559.56 151.28,557.59 152.66,555.65 154.04,553.74 155.42,551.86 156.80,550.00 159.92,545.85 163.04,541.76 166.16,537.73 169.28,533.78 172.40,529.90 175.52,526.12 178.64,522.43 181.76,518.84 184.88,515.36 188.00,512.00 189.20,512.58 190.40,513.16 191.60,513.74 192.80,514.33 194.00,514.92 195.20,515.52 196.40,516.12 197.60,516.74 198.80,517.36 200.00,518.00 205.00,520.74 210.00,523.61 215.00,526.57 220.00,529.60 225.00,532.68 230.00,535.79 235.00,538.90 240.00,541.98 245.00,545.03 250.00,548.00 254.86,550.85 259.73,553.68 264.59,556.50 269.46,559.31 274.32,562.11 279.18,564.89 284.05,567.66 288.91,570.42 293.78,573.17 298.64,575.90 302.09,575.51 305.53,575.12 308.98,574.73 312.43,574.33 315.87,573.93 319.32,573.53 322.77,573.12 326.21,572.70 329.66,572.29 333.11,571.86 336.55,571.44 340.00,571.00 350.00,569.69 360.00,568.31 370.00,566.89 380.00,565.42 390.00,563.93 400.00,562.43 410.00,560.93 420.00,559.45 430.00,558.01 440.00,556.61 450.00,555.27 460.00,554.00 471.01,552.66 482.02,551.35 493.02,550.06 504.03,548.80 515.04,547.56 526.05,546.36 537.06,545.18 548.07,544.04 559.08,542.92 570.08,541.85 581.09,540.81 592.10,539.80"/>
<polyline stroke="#6034d4" points="104.00,692.00 104.05,690.26 104.10,688.56 104.15,686.88 104.20,685.23 104.25,683.61 104.30,682.02 104.35,680.46 104.40,678.94 104.45,677.45 104.50,676.00 104.55,674.55 104.60,673.10 104.65,671.65 104.70,670.22 104.75,668.83 104.80,667.49 104.85,666.22 104.90,665.04 104.95,663.96 105.00,663.00 105.08,661.58 105.16,660.20 105.24,658.87 105.32,657.61 105.40,656.44 105.48,655.37 105.56,654.43 105.64,653.62 105.72,652.97 105.80,652.50 106.07,651.33 106.34,650.36 106.61,649.56 106.88,648.89 107.15,648.32 107.42,647.82 107.69,647.35 107.96,646.88 108.23,646.38 108.50,645.80 109.25,644.09 110.00,642.42 110.75,640.78 111.50,639.17 112.25,637.59 113.00,636.04 113.75,634.50 114.50,632.99 115.25,631.49 116.00,630.00 117.08,627.88 118.16,625.80 119.24,623.74 120.32,621.72 121.40,619.72 122.48,617.74 123.56,615.79 124.64,613.84 125.72,611.92 126.80,610.00 127.98,607.93 129.16,605.90 130.34,603.89 131.52,601.90 132.70,599.93 133.88,597.96 135.06,595.99 136.24,594.02 137.42,592.02 138.60,590.00 139.74,588.00 140.88,585.95 142.02,583.86 143.16,581.75 144.30,579.66 145.44,577.59 146.58,575.57 147.72,573.62 148.86,571.75 150.00,570.00 151.58,567.72 153.16,565.56 154.74,563.50 156.32,561.51 157.90,559.58 159.48,557.68 161.06,555.79 162.64,553.90 164.22,551.97 165.80,550.00 168.05,547.14 170.30,544.28 172.55,541.42 174.80,538.55 177.05,535.68 179.30,532.81 181.55,529.94 183.80,527.06 186.05,524.18 188.30,521.30 189.47,521.97 190.64,522.64 191.81,523.31 192.98,523.97 194.15,524.63 195.32,525.29 196.49,525.93 197.66,526.57 198.83,527.19 200.00,527.80 205.00,530.32 210.00,532.73 215.00,535.06 220.00,537.33 225.00,539.57 230.00,541.79 235.00,544.03 240.00,546.29 245.00,548.61 250.00,551.00 254.86,553.39 259.73,555.80 264.59,558.24 269.46,560.70 274.32,563.19 279.18,565.71 284.05,568.24 288.91,570.81 293.78,573.39 298.64,576.00 302.09,576.13 305.53,576.26 308.98,576.41 312.43,576.56 315.87,576.71 319.32,576.87 322.77,577.04 326.21,577.22 329.66,577.40 333.11,577.60 336.55,577.79 340.00,578.00 350.00,578.67 360.00,579.47 370.00,580.36 380.00,581.33 390.00,582.35 400.00,583.41 410.00,584.49 420.00,585.56 430.00,586.61 440.00,587.61 450.00,588.55 460.00,589.40 471.01,590.27 482.02,591.13 493.02,591.97 504.03,592.79 515.04,593.58 526.05,594.36 537.06,595.11 548.07,595.84 559.08,596.55 570.08,597.23 581.09,597.88 592.10,598.50"/>
<polyline stroke="#bc1438" points="104.00,692.00 104.05,690.26 104.10,688.56 104.15,686.88 104.20,685.23 104.25,683.61 104.30,682.02 104.35,680.46 104.40,678.94 104.45,677.45 104.50,676.00 104.55,674.55 104.60,673.10 104.65,671.65 104.70,670.22 104.75,668.83 104.80,667.49 104.85,666.22 104.90,665.04 104.95,663.96 105.00,663.00 105.08,661.58 105.16,660.20 105.24,658.87 105.32,657.61 105.40,656.44 105.48,655.37 105.56,654.43 105.64,653.62 105.72,652.97 105.80,652.50 106.07,651.32 106.34,650.35 106.61,649.53 106.88,648.86 107.15,648.28 107.42,647.77 107.69,647.30 107.96,646.84 108.23,646.35 108.50,645.80 109.35,644.01 110.20,642.31 111.05,640.70 111.90,639.16 112.75,637.65 113.60,636.16 114.45,634.67 115.30,633.16 116.15,631.61 117.00,630.00 117.98,628.07 118.96,626.09 119.94,624.08 120.92,622.05 121.90,620.00 122.88,617.95 123.86,615.92 124.84,613.91 125.82,611.93 126.80,610.00 127.88,607.91 128.96,605.83 130.04,603.77 131.12,601.73 132.20,599.71 133.28,597.71 134.36,595.74 135.44,593.80 136.52,591.88 137.60,590.00 138.84,587.88 140.08,585.81 141.32,583.77 142.56,581.77 143.80,579.78 145.04,577.82 146.28,575.86 147.52,573.91 148.76,571.96 150.00,570.00 151.28,567.96 152.56,565.91 153.84,563.86 155.12,561.82 156.40,559.78 157.68,557.76 158.96,555.77 160.24,553.81 161.52,551.88 162.80,550.00 165.24,546.48 167.68,543.01 170.12,539.59 172.56,536.23 175.00,532.93 177.44,529.69 179.88,526.53 182.32,523.44 184.76,520.43 187.20,517.50 188.48,518.24 189.76,518.97 191.04,519.71 192.32,520.44 193.60,521.18 194.88,521.91 196.16,522.63 197.44,523.36 198.72,524.08 200.00,524.80 205.00,527.58 210.00,530.31 215.00,533.02 220.00,535.72 225.00,538.40 230.00,541.08 235.00,543.78 240.00,546.49 245.00,549.22 250.00,552.00 254.86,554.73 259.73,557.47 264.59,560.24 269.46,563.01 274.32,565.81 279.18,568.61 284.05,571.44 288.91,574.28 293.78,577.13 298.64,580.00 302.09,580.10 305.53,580.19 308.98,580.27 312.43,580.34 315.87,580.40 319.32,580.46 322.77,580.50 326.21,580.54 329.66,580.56 333.11,580.58 336.55,580.60 340.00,580.60 350.00,580.52 360.00,580.30 370.00,579.96 380.00,579.52 390.00,579.00 400.00,578.43 410.00,577.82 420.00,577.20 430.00,576.58 440.00,576.00 450.00,575.46 460.00,575.00 471.01,574.54 482.02,574.09 493.02,573.65 504.03,573.21 515.04,572.78 526.05,572.36 537.06,571.94 548.07,571.54 559.08,571.14 570.08,570.75 581.09,570.37 592.10,570.00"/>
<polyline stroke="#c82828" points="104.00,692.00 104.05,690.26 104.10,688.56 104.15,686.88 104.20,685.23 104.25,683.61 104.30,682.02 104.35,680.46 104.40,678.94 104.45,677.45 104.50,676.00 104.55,674.55 104.60,673.10 104.65,671.65 104.70,670.22 104.75,668.83 104.80,667.49 104.85,666.22 104.90,665.04 104.95,663.96 105.00,663.00 105.08,661.58 105.16,660.20 105.24,658.87 105.32,657.61 105.40,656.44 105.48,655.37 105.56,654.43 105.64,653.62 105.72,652.97 105.80,652.50 106.07,651.33 106.34,650.36 106.61,649.56 106.88,648.89 107.15,648.32 107.42,647.82 107.69,647.35 107.96,646.88 108.23,646.38 108.50,645.80 109.25,644.10 110.00,642.44 110.75,640.82 111.50,639.24 112.25,637.68 113.00,636.14 113.75,634.61 114.50,633.08 115.25,631.55 116.00,630.00 116.98,627.96 117.96,625.93 118.94,623.89 119.92,621.86 120.90,619.84 121.88,617.83 122.86,615.84 123.84,613.87 124.82,611.92 125.80,610.00 126.88,607.92 127.96,605.86 129.04,603.82 130.12,601.81 131.20,599.81 132.28,597.83 133.36,595.86 134.44,593.90 135.52,591.95 136.60,590.00 137.74,587.95 138.88,585.89 140.02,583.85 141.16,581.81 142.30,579.79 143.44,577.78 144.58,575.80 145.72,573.84 146.86,571.90 148.00,570.00 149.28,567.89 150.56,565.79 151.84,563.71 153.12,561.66 154.40,559.63 155.68,557.63 156.96,555.66 158.24,553.73 159.52,551.85 160.80,550.00 163.90,545.62 167.00,541.30 170.10,537.07 173.20,532.93 176.30,528.88 179.40,524.94 182.50,521.13 185.60,517.44 188.70,513.90 191.80,510.50 192.62,511.01 193.44,511.52 194.26,512.02 195.08,512.53 195.90,513.03 196.72,513.54 197.54,514.03 198.36,514.53 199.18,515.02 200.00,515.50 205.00,518.40 210.00,521.23 215.00,524.02 220.00,526.77 225.00,529.49 230.00,532.19 235.00,534.88 240.00,537.57 245.00,540.28 250.00,543.00 254.86,545.66 259.73,548.32 264.59,550.98 269.46,553.63 274.32,556.28 279.18,558.93 284.05,561.58 288.91,564.22 293.78,566.86 298.64,569.50 302.09,569.46 305.53,569.41 308.98,569.35 312.43,569.29 315.87,569.22 319.32,569.15 322.77,569.07 326.21,568.98 329.66,568.89 333.11,568.80 336.55,568.70 340.00,568.60 350.00,568.24 360.00,567.75 370.00,567.18 380.00,566.52 390.00,565.82 400.00,565.07 410.00,564.31 420.00,563.56 430.00,562.83 440.00,562.15 450.00,561.53 460.00,561.00 471.01,560.48 482.02,559.96 493.02,559.47 504.03,558.99 515.04,558.52 526.05,558.08 537.06,557.65 548.07,557.25 559.08,556.88 570.08,556.52 581.09,556.20 592.10,555.90"/>
<polyline stroke="#b81c5c" points="104.00,692.00 104.05,690.26 104.10,688.56 104.15,686.88 104.20,685.23 104.25,683.61 104.30,682.02 104.35,680.46 104.40,678.94 104.45,677.45 104.50,676.00 104.55,674.55 104.60,673.10 104.65,671.65 104.70,670.22 104.75,668.83 104.80,667.49 104.85,666.22 104.90,665.04 104.95,663.96 105.00,663.00 105.08,661.58 105.16,660.20 105.24,658.87 105.32,657.61 105.40,656.44 105.48,655.37 105.56,654.43 105.64,653.62 105.72,652.97 105.80,652.50 106.07,651.33 106.34,650.37 106.61,649.58 106.88,648.93 107.15,648.37 107.42,647.88 107.69,647.41 107.96,646.94 108.23,646.41 108.50,645.80 109.15,644.20 109.80,642.59 110.45,640.98 111.10,639.37 111.75,637.76 112.40,636.17 113.05,634.59 113.70,633.04 114.35,631.50 115.00,630.00 115.93,627.89 116.86,625.80 117.79,623.75 118.72,621.72 119.65,619.71 120.58,617.73 121.51,615.77 122.44,613.83 123.37,611.91 124.30,610.00 125.33,607.92 126.36,605.86 127.39,603.84 128.42,601.84 129.45,599.86 130.48,597.89 131.51,595.92 132.54,593.95 133.57,591.98 134.60,590.00 135.64,587.98 136.68,585.95 137.72,583.91 138.76,581.87 139.80,579.83 140.84,577.81 141.88,575.81 142.92,573.84 143.96,571.90 145.00,570.00 146.18,567.88 147.36,565.77 148.54,563.69 149.72,561.63 150.90,559.59 152.08,557.59 153.26,555.63 154.44,553.71 155.62,551.83 156.80,550.00 160.48,544.42 164.16,538.93 167.84,533.55 171.52,528.31 175.20,523.22 178.88,518.29 182.56,513.54 186.24,509.00 189.92,504.68 193.60,500.60 199.24,505.52 204.88,510.46 210.52,515.41 216.16,520.38 221.80,525.36 227.44,530.36 233.08,535.37 238.72,540.40 244.36,545.44 250.00,550.50 254.86,554.87 259.73,559.26 264.59,563.66 269.46,568.07 274.32,572.50 279.18,576.94 284.05,581.38 288.91,585.84 293.78,590.32 298.64,594.80 302.09,594.85 305.53,594.88 308.98,594.92 312.43,594.94 315.87,594.96 319.32,594.97 322.77,594.99 326.21,594.99 329.66,595.00 333.11,595.00 336.55,595.00 340.00,595.00 350.00,594.87 360.00,594.50 370.00,593.94 380.00,593.21 390.00,592.35 400.00,591.41 410.00,590.42 420.00,589.41 430.00,588.43 440.00,587.51 450.00,586.69 460.00,586.00 471.01,585.34 482.02,584.69 493.02,584.06 504.03,583.45 515.04,582.85 526.05,582.28 537.06,581.72 548.07,581.19 559.08,580.68 570.08,580.19 581.09,579.73 592.10,579.30"/>
<polyline stroke="#b020c0" points="104.00,692.00 104.05,690.26 104.10,688.56 104.15,686.88 104.20,685.23 104.25,683.61 104.30,682.02 104.35,680.46 104.40,678.94 104.45,677.45 104.50,676.00 104.55,674.55 104.60,673.10 104.65,671.65 104.70,670.22 104.75,668.83 104.80,667.49 104.85,666.22 104.90,665.04 104.95,663.96 105.00,663.00 105.08,661.58 105.16,660.20 105.24,658.87 105.32,657.61 105.40,656.44 105.48,655.37 105.56,654.43 105.64,653.62 105.72,652.97 105.80,652.50 106.07,651.33 106.34,650.37 106.61,649.58 106.88,648.93 107.15,648.37 107.42,647.88 107.69,647.41 107.96,646.94 108.23,646.41 108.50,645.80 109.15,644.19 109.80,642.57 110.45,640.95 111.10,639.33 111.75,637.72 112.40,636.12 113.05,634.54 113.70,632.99 114.35,631.47 115.00,630.00 115.98,627.85 116.96,625.76 117.94,623.72 118.92,621.73 119.90,619.77 120.88,617.82 121.86,615.88 122.84,613.94 123.82,611.98 124.80,610.00 125.78,607.99 126.76,605.95 127.74,603.91 128.72,601.86 129.70,599.82 130.68,597.79 131.66,595.78 132.64,593.81 133.62,591.88 134.60,590.00 135.74,587.87 136.88,585.79 138.02,583.75 139.16,581.74 140.30,579.76 141.44,577.80 142.58,575.85 143.72,573.91 144.86,571.96 146.00,570.00 147.18,567.94 148.36,565.85 149.54,563.73 150.72,561.62 151.90,559.53 153.08,557.47 154.26,555.47 155.44,553.55 156.62,551.72 157.80,550.00 161.47,544.90 165.14,539.91 168.81,535.09 172.48,530.45 176.15,526.04 179.82,521.88 183.49,518.01 187.16,514.47 190.83,511.29 194.50,508.50 195.05,508.98 195.60,509.47 196.15,509.95 196.70,510.43 197.25,510.91 197.80,511.39 198.35,511.86 198.90,512.32 199.45,512.76 200.00,513.20 205.00,516.99 210.00,520.60 215.00,524.05 220.00,527.39 225.00,530.65 230.00,533.86 235.00,537.07 240.00,540.31 245.00,543.60 250.00,547.00 254.86,550.37 259.73,553.76 264.59,557.16 269.46,560.58 274.32,564.01 279.18,567.46 284.05,570.92 288.91,574.40 293.78,577.89 298.64,581.40 302.09,581.01 305.53,580.61 308.98,580.22 312.43,579.84 315.87,579.45 319.32,579.08 322.77,578.71 326.21,578.34 329.66,577.99 333.11,577.65 336.55,577.32 340.00,577.00 350.00,576.12 360.00,575.30 370.00,574.52 380.00,573.77 390.00,573.04 400.00,572.34 410.00,571.64 420.00,570.95 430.00,570.24 440.00,569.52 450.00,568.78 460.00,568.00 471.01,567.12 482.02,566.22 493.02,565.32 504.03,564.40 515.04,563.47 526.05,562.54 537.06,561.59 548.07,560.63 559.08,559.66 570.08,558.69 581.09,557.70 592.10,556.70"/>
<polyline stroke="#8c30d8" points="104.00,692.00 104.05,690.26 104.10,688.56 104.15,686.88 104.20,685.23 104.25,683.61 104.30,682.02 104.35,680.46 104.40,678.94 104.45,677.45 104.50,676.00 104.55,674.55 104.60,673.10 104.65,671.65 104.70,670.22 104.75,668.83 104.80,667.49 104.85,666.22 104.90,665.04 104.95,663.96 105.00,663.00 105.08,661.58 105.16,660.20 105.24,658.87 105.32,657.61 105.40,656.44 105.48,655.37 105.56,654.43 105.64,653.62 105.72,652.97 105.80,652.50 106.07,651.33 106.34,650.37 106.61,649.58 106.88,648.93 107.15,648.37 107.42,647.88 107.69,647.41 107.96,646.94 108.23,646.41 108.50,645.80 109.15,644.20 109.80,642.60 110.45,641.00 111.10,639.40 111.75,637.81 112.40,636.23 113.05,634.65 113.70,633.09 114.35,631.54 115.00,630.00 115.88,627.93 116.76,625.88 117.64,623.83 118.52,621.80 119.40,619.78 120.28,617.78 121.16,615.80 122.04,613.84 122.92,611.91 123.80,610.00 124.78,607.91 125.76,605.84 126.74,603.80 127.72,601.79 128.70,599.79 129.68,597.81 130.66,595.84 131.64,593.89 132.62,591.94 133.60,590.00 134.64,587.93 135.68,585.86 136.72,583.79 137.76,581.72 138.80,579.67 139.84,577.65 140.88,575.67 141.92,573.72 142.96,571.83 144.00,570.00 145.28,567.83 146.56,565.73 147.84,563.69 149.12,561.71 150.40,559.75 151.68,557.82 152.96,555.89 154.24,553.95 155.52,551.99 156.80,550.00 158.55,547.24 160.30,544.48 162.05,541.71 163.80,538.94 165.55,536.16 167.30,533.38 169.05,530.59 170.80,527.80 172.55,525.00 174.30,522.20 176.87,523.18 179.44,524.16 182.01,525.15 184.58,526.15 187.15,527.17 189.72,528.19 192.29,529.22 194.86,530.27 197.43,531.33 200.00,532.40 205.00,534.50 210.00,536.62 215.00,538.76 220.00,540.93 225.00,543.14 230.00,545.39 235.00,547.70 240.00,550.06 245.00,552.49 250.00,555.00 254.86,557.52 259.73,560.11 264.59,562.77 269.46,565.51 274.32,568.32 279.18,571.19 284.05,574.13 288.91,577.13 293.78,580.19 298.64,583.30 302.09,582.71 305.53,582.11 308.98,581.50 312.43,580.91 315.87,580.33 319.32,579.79 322.77,579.30 326.21,578.86 329.66,578.51 333.11,578.23 336.55,578.06 340.00,578.00 350.00,578.03 360.00,578.12 370.00,578.26 380.00,578.45 390.00,578.67 400.00,578.92 410.00,579.19 420.00,579.47 430.00,579.76 440.00,580.05 450.00,580.34 460.00,580.60 471.01,580.89 482.02,581.18 493.02,581.49 504.03,581.81 515.04,582.14 526.05,582.48 537.06,582.82 548.07,583.18 559.08,583.55 570.08,583.92 581.09,584.31 592.10,584.70"/>
<polyline stroke="#56a430" points="104.00,692.00 104.05,690.26 104.10,688.56 104.15,686.88 104.20,685.23 104.25,683.61 104.30,682.02 104.35,680.46 104.40,678.94 104.45,677.45 104.50,676.00 104.55,674.55 104.60,673.10 104.65,671.65 104.70,670.22 104.75,668.83 104.80,667.49 104.85,666.22 104.90,665.04 104.95,663.96 105.00,663.00 105.08,661.58 105.16,660.20 105.24,658.87 105.32,657.61 105.40,656.44 105.48,655.37 105.56,654.43 105.64,653.62 105.72,652.97 105.80,652.50 106.07,651.33 106.34,650.36 106.61,649.56 106.88,648.89 107.15,648.32 107.42,647.82 107.69,647.35 107.96,646.88 108.23,646.38 108.50,645.80 109.25,644.10 110.00,642.44 110.75,640.82 111.50,639.24 112.25,637.68 113.00,636.14 113.75,634.61 114.50,633.08 115.25,631.55 116.00,630.00 116.98,627.96 117.96,625.90 118.94,623.84 119.92,621.78 120.90,619.73 121.88,617.71 122.86,615.71 123.84,613.76 124.82,611.85 125.80,610.00 126.98,607.85 128.16,605.77 129.34,603.74 130.52,601.76 131.70,599.80 132.88,597.87 134.06,595.93 135.24,593.98 136.42,592.01 137.60,590.00 138.74,588.02 139.88,586.01 141.02,583.98 142.16,581.94 143.30,579.90 144.44,577.87 145.58,575.85 146.72,573.87 147.86,571.91 149.00,570.00 150.28,567.89 151.56,565.79 152.84,563.71 154.12,561.66 155.40,559.63 156.68,557.63 157.96,555.66 159.24,553.73 160.52,551.84 161.80,550.00 164.63,546.01 167.46,542.08 170.29,538.23 173.12,534.45 175.95,530.77 178.78,527.18 181.61,523.70 184.44,520.34 187.27,517.10 190.10,514.00 191.09,514.57 192.08,515.14 193.07,515.71 194.06,516.28 195.05,516.84 196.04,517.40 197.03,517.96 198.02,518.51 199.01,519.06 200.00,519.60 205.00,522.27 210.00,524.87 215.00,527.42 220.00,529.93 225.00,532.41 230.00,534.89 235.00,537.37 240.00,539.87 245.00,542.41 250.00,545.00 254.86,547.56 259.73,550.13 264.59,552.72 269.46,555.33 274.32,557.95 279.18,560.59 284.05,563.24 288.91,565.91 293.78,568.60 298.64,571.30 302.09,572.03 305.53,572.75 308.98,573.47 312.43,574.18 315.87,574.88 319.32,575.58 322.77,576.26 326.21,576.92 329.66,577.57 333.11,578.20 336.55,578.81 340.00,579.40 350.00,581.04 360.00,582.64 370.00,584.19 380.00,585.70 390.00,587.15 400.00,588.56 410.00,589.92 420.00,591.23 430.00,592.50 440.00,593.71 450.00,594.88 460.00,596.00 471.01,597.19 482.02,598.36 493.02,599.49 504.03,600.59 515.04,601.66 526.05,602.69 537.06,603.67 548.07,604.62 559.08,605.51 570.08,606.36 581.09,607.16 592.10,607.90"/>
</g>
<g stroke="#000" fill="none">
<path stroke-width="1.6" stroke-linejoin="round" d="M103.00 8.15 H592.10 V898.60 H103.00 Z M103.00 453.50 H592.10"/>
<path stroke-width="1.15" d="M112.78 8.15 v4.60 M112.78 453.50 v-4.60 M122.56 8.15 v4.60 M122.56 453.50 v-4.60 M132.35 8.15 v4.60 M132.35 453.50 v-4.60 M142.13 8.15 v4.60 M142.13 453.50 v-4.60 M151.91 8.15 v4.60 M151.91 453.50 v-4.60 M161.69 8.15 v4.60 M161.69 453.50 v-4.60 M171.47 8.15 v4.60 M171.47 453.50 v-4.60 M181.26 8.15 v4.60 M181.26 453.50 v-4.60 M191.04 8.15 v4.60 M191.04 453.50 v-4.60 M200.82 8.15 v9.00 M200.82 453.50 v-9.00 M210.60 8.15 v4.60 M210.60 453.50 v-4.60 M220.38 8.15 v4.60 M220.38 453.50 v-4.60 M230.17 8.15 v4.60 M230.17 453.50 v-4.60 M239.95 8.15 v4.60 M239.95 453.50 v-4.60 M249.73 8.15 v4.60 M249.73 453.50 v-4.60 M259.51 8.15 v4.60 M259.51 453.50 v-4.60 M269.29 8.15 v4.60 M269.29 453.50 v-4.60 M279.08 8.15 v4.60 M279.08 453.50 v-4.60 M288.86 8.15 v4.60 M288.86 453.50 v-4.60 M298.64 8.15 v9.00 M298.64 453.50 v-9.00 M308.42 8.15 v4.60 M308.42 453.50 v-4.60 M318.20 8.15 v4.60 M318.20 453.50 v-4.60 M327.99 8.15 v4.60 M327.99 453.50 v-4.60 M337.77 8.15 v4.60 M337.77 453.50 v-4.60 M347.55 8.15 v4.60 M347.55 453.50 v-4.60 M357.33 8.15 v4.60 M357.33 453.50 v-4.60 M367.11 8.15 v4.60 M367.11 453.50 v-4.60 M376.90 8.15 v4.60 M376.90 453.50 v-4.60 M386.68 8.15 v4.60 M386.68 453.50 v-4.60 M396.46 8.15 v9.00 M396.46 453.50 v-9.00 M406.24 8.15 v4.60 M406.24 453.50 v-4.60 M416.02 8.15 v4.60 M416.02 453.50 v-4.60 M425.81 8.15 v4.60 M425.81 453.50 v-4.60 M435.59 8.15 v4.60 M435.59 453.50 v-4.60 M445.37 8.15 v4.60 M445.37 453.50 v-4.60 M455.15 8.15 v4.60 M455.15 453.50 v-4.60 M464.93 8.15 v4.60 M464.93 453.50 v-4.60 M474.72 8.15 v4.60 M474.72 453.50 v-4.60 M484.50 8.15 v4.60 M484.50 453.50 v-4.60 M494.28 8.15 v9.00 M494.28 453.50 v-9.00 M504.06 8.15 v4.60 M504.06 453.50 v-4.60 M513.84 8.15 v4.60 M513.84 453.50 v-4.60 M523.63 8.15 v4.60 M523.63 453.50 v-4.60 M533.41 8.15 v4.60 M533.41 453.50 v-4.60 M543.19 8.15 v4.60 M543.19 453.50 v-4.60 M552.97 8.15 v4.60 M552.97 453.50 v-4.60 M562.75 8.15 v4.60 M562.75 453.50 v-4.60 M572.54 8.15 v4.60 M572.54 453.50 v-4.60 M582.32 8.15 v4.60 M582.32 453.50 v-4.60 M112.78 453.50 v4.60 M112.78 898.60 v-4.60 M122.56 453.50 v4.60 M122.56 898.60 v-4.60 M132.35 453.50 v4.60 M132.35 898.60 v-4.60 M142.13 453.50 v4.60 M142.13 898.60 v-4.60 M151.91 453.50 v4.60 M151.91 898.60 v-4.60 M161.69 453.50 v4.60 M161.69 898.60 v-4.60 M171.47 453.50 v4.60 M171.47 898.60 v-4.60 M181.26 453.50 v4.60 M181.26 898.60 v-4.60 M191.04 453.50 v4.60 M191.04 898.60 v-4.60 M200.82 453.50 v9.00 M200.82 898.60 v-9.00 M210.60 453.50 v4.60 M210.60 898.60 v-4.60 M220.38 453.50 v4.60 M220.38 898.60 v-4.60 M230.17 453.50 v4.60 M230.17 898.60 v-4.60 M239.95 453.50 v4.60 M239.95 898.60 v-4.60 M249.73 453.50 v4.60 M249.73 898.60 v-4.60 M259.51 453.50 v4.60 M259.51 898.60 v-4.60 M269.29 453.50 v4.60 M269.29 898.60 v-4.60 M279.08 453.50 v4.60 M279.08 898.60 v-4.60 M288.86 453.50 v4.60 M288.86 898.60 v-4.60 M298.64 453.50 v9.00 M298.64 898.60 v-9.00 M308.42 453.50 v4.60 M308.42 898.60 v-4.60 M318.20 453.50 v4.60 M318.20 898.60 v-4.60 M327.99 453.50 v4.60 M327.99 898.60 v-4.60 M337.77 453.50 v4.60 M337.77 898.60 v-4.60 M347.55 453.50 v4.60 M347.55 898.60 v-4.60 M357.33 453.50 v4.60 M357.33 898.60 v-4.60 M367.11 453.50 v4.60 M367.11 898.60 v-4.60 M376.90 453.50 v4.60 M376.90 898.60 v-4.60 M386.68 453.50 v4.60 M386.68 898.60 v-4.60 M396.46 453.50 v9.00 M396.46 898.60 v-9.00 M406.24 453.50 v4.60 M406.24 898.60 v-4.60 M416.02 453.50 v4.60 M416.02 898.60 v-4.60 M425.81 453.50 v4.60 M425.81 898.60 v-4.60 M435.59 453.50 v4.60 M435.59 898.60 v-4.60 M445.37 453.50 v4.60 M445.37 898.60 v-4.60 M455.15 453.50 v4.60 M455.15 898.60 v-4.60 M464.93 453.50 v4.60 M464.93 898.60 v-4.60 M474.72 453.50 v4.60 M474.72 898.60 v-4.60 M484.50 453.50 v4.60 M484.50 898.60 v-4.60 M494.28 453.50 v9.00 M494.28 898.60 v-9.00 M504.06 453.50 v4.60 M504.06 898.60 v-4.60 M513.84 453.50 v4.60 M513.84 898.60 v-4.60 M523.63 453.50 v4.60 M523.63 898.60 v-4.60 M533.41 453.50 v4.60 M533.41 898.60 v-4.60 M543.19 453.50 v4.60 M543.19 898.60 v-4.60 M552.97 453.50 v4.60 M552.97 898.60 v-4.60 M562.75 453.50 v4.60 M562.75 898.60 v-4.60 M572.54 453.50 v4.60 M572.54 898.60 v-4.60 M582.32 453.50 v4.60 M582.32 898.60 v-4.60 M103.00 414.96 h4.90 M592.10 414.96 h-4.90 M103.00 388.82 h4.90 M592.10 388.82 h-4.90 M103.00 370.27 h4.90 M592.10 370.27 h-4.90 M103.00 355.88 h4.90 M592.10 355.88 h-4.90 M103.00 344.13 h4.90 M592.10 344.13 h-4.90 M103.00 334.19 h4.90 M592.10 334.19 h-4.90 M103.00 325.58 h4.90 M592.10 325.58 h-4.90 M103.00 317.99 h4.90 M592.10 317.99 h-4.90 M103.00 311.19 h9.80 M592.10 311.19 h-9.80 M103.00 266.51 h4.90 M592.10 266.51 h-4.90 M103.00 240.37 h4.90 M592.10 240.37 h-4.90 M103.00 221.82 h4.90 M592.10 221.82 h-4.90 M103.00 207.43 h4.90 M592.10 207.43 h-4.90 M103.00 195.68 h4.90 M592.10 195.68 h-4.90 M103.00 185.74 h4.90 M592.10 185.74 h-4.90 M103.00 177.13 h4.90 M592.10 177.13 h-4.90 M103.00 169.54 h4.90 M592.10 169.54 h-4.90 M103.00 162.74 h9.80 M592.10 162.74 h-9.80 M103.00 118.06 h4.90 M592.10 118.06 h-4.90 M103.00 91.92 h4.90 M592.10 91.92 h-4.90 M103.00 73.37 h4.90 M592.10 73.37 h-4.90 M103.00 58.98 h4.90 M592.10 58.98 h-4.90 M103.00 47.23 h4.90 M592.10 47.23 h-4.90 M103.00 37.29 h4.90 M592.10 37.29 h-4.90 M103.00 28.68 h4.90 M592.10 28.68 h-4.90 M103.00 21.09 h4.90 M592.10 21.09 h-4.90 M103.00 14.29 h9.80 M592.10 14.29 h-9.80 M103.00 898.60 h4.90 M592.10 898.60 h-4.90 M103.00 891.01 h4.90 M592.10 891.01 h-4.90 M103.00 884.22 h9.80 M592.10 884.22 h-9.80 M103.00 839.56 h4.90 M592.10 839.56 h-4.90 M103.00 813.43 h4.90 M592.10 813.43 h-4.90 M103.00 794.90 h4.90 M592.10 794.90 h-4.90 M103.00 780.52 h4.90 M592.10 780.52 h-4.90 M103.00 768.77 h4.90 M592.10 768.77 h-4.90 M103.00 758.84 h4.90 M592.10 758.84 h-4.90 M103.00 750.23 h4.90 M592.10 750.23 h-4.90 M103.00 742.64 h4.90 M592.10 742.64 h-4.90 M103.00 735.86 h9.80 M592.10 735.86 h-9.80 M103.00 691.19 h4.90 M592.10 691.19 h-4.90 M103.00 665.07 h4.90 M592.10 665.07 h-4.90 M103.00 646.53 h4.90 M592.10 646.53 h-4.90 M103.00 632.15 h4.90 M592.10 632.15 h-4.90 M103.00 620.40 h4.90 M592.10 620.40 h-4.90 M103.00 610.47 h4.90 M592.10 610.47 h-4.90 M103.00 601.87 h4.90 M592.10 601.87 h-4.90 M103.00 594.28 h4.90 M592.10 594.28 h-4.90 M103.00 587.49 h9.80 M592.10 587.49 h-9.80 M103.00 542.83 h4.90 M592.10 542.83 h-4.90 M103.00 516.70 h4.90 M592.10 516.70 h-4.90 M103.00 498.16 h4.90 M592.10 498.16 h-4.90 M103.00 483.78 h4.90 M592.10 483.78 h-4.90 M103.00 472.04 h4.90 M592.10 472.04 h-4.90 M103.00 462.10 h4.90 M592.10 462.10 h-4.90 M103.00 453.50 h4.90 M592.10 453.50 h-4.90"/>
</g>
<g fill="none" stroke="#000" stroke-width="1.80" vector-effect="non-scaling-stroke" stroke-linejoin="round" stroke-linecap="square">
<g style="vector-effect:non-scaling-stroke">
<path d="M0 21L25 0V100" transform="translate(53.95 8.65) scale(0.1880 0.1730)" vector-effect="non-scaling-stroke" stroke-width="1.50"/>
<path d="M35 0C59 0 70 19 70 50C70 81 59 100 35 100C11 100 0 81 0 50C0 19 11 0 35 0Z" transform="translate(68.45 8.65) scale(0.1757 0.1730)" vector-effect="non-scaling-stroke" stroke-width="1.50"/>
<path d="M62 10C56 3 48 0 38 0C15 0 2 24 2 68M2 68A32 32 0 1 0 66 68A32 32 0 1 0 2 68" transform="translate(85.88 1.88) scale(0.1053 0.1125)" vector-effect="non-scaling-stroke" stroke-width="1.35"/>
<path d="M0 21L25 0V100" transform="translate(53.95 155.25) scale(0.1880 0.1750)" vector-effect="non-scaling-stroke" stroke-width="1.50"/>
<path d="M35 0C59 0 70 19 70 50C70 81 59 100 35 100C11 100 0 81 0 50C0 19 11 0 35 0Z" transform="translate(68.45 155.25) scale(0.1757 0.1750)" vector-effect="non-scaling-stroke" stroke-width="1.50"/>
<path d="M60 0H9L6 42C14 35 24 33 33 33C53 33 68 47 68 66C68 86 53 100 34 100C18 100 6 92 0 82" transform="translate(84.47 148.68) scale(0.1257 0.1115)" vector-effect="non-scaling-stroke" stroke-width="1.35"/>
<path d="M0 21L25 0V100" transform="translate(53.95 303.75) scale(0.1880 0.1750)" vector-effect="non-scaling-stroke" stroke-width="1.50"/>
<path d="M35 0C59 0 70 19 70 50C70 81 59 100 35 100C11 100 0 81 0 50C0 19 11 0 35 0Z" transform="translate(68.45 303.75) scale(0.1757 0.1750)" vector-effect="non-scaling-stroke" stroke-width="1.50"/>
<path d="M54 100V0L0 69H78" transform="translate(84.77 297.68) scale(0.1122 0.1065)" vector-effect="non-scaling-stroke" stroke-width="1.35"/>
<path d="M0 21L25 0V100" transform="translate(53.95 580.05) scale(0.1880 0.1790)" vector-effect="non-scaling-stroke" stroke-width="1.50"/>
<path d="M35 0C59 0 70 19 70 50C70 81 59 100 35 100C11 100 0 81 0 50C0 19 11 0 35 0Z" transform="translate(68.45 580.05) scale(0.1757 0.1790)" vector-effect="non-scaling-stroke" stroke-width="1.50"/>
<path d="M4 0H62L30 40C51 39 66 53 66 70C66 88 52 100 33 100C18 100 6 93 0 82" transform="translate(85.17 573.17) scale(0.1265 0.1195)" vector-effect="non-scaling-stroke" stroke-width="1.35"/>
<path d="M0 21L25 0V100" transform="translate(53.95 728.75) scale(0.1880 0.1720)" vector-effect="non-scaling-stroke" stroke-width="1.50"/>
<path d="M35 0C59 0 70 19 70 50C70 81 59 100 35 100C11 100 0 81 0 50C0 19 11 0 35 0Z" transform="translate(68.45 728.75) scale(0.1757 0.1720)" vector-effect="non-scaling-stroke" stroke-width="1.50"/>
<path d="M3 28C3 11 17 0 34 0C51 0 64 12 64 28C64 40 58 48 48 57L0 100H66" transform="translate(84.97 722.17) scale(0.1189 0.1165)" vector-effect="non-scaling-stroke" stroke-width="1.35"/>
<path d="M0 21L25 0V100" transform="translate(53.95 877.05) scale(0.1880 0.1750)" vector-effect="non-scaling-stroke" stroke-width="1.50"/>
<path d="M35 0C59 0 70 19 70 50C70 81 59 100 35 100C11 100 0 81 0 50C0 19 11 0 35 0Z" transform="translate(68.45 877.05) scale(0.1757 0.1750)" vector-effect="non-scaling-stroke" stroke-width="1.50"/>
<path d="M0 21L25 0V100" transform="translate(86.88 870.88) scale(0.1420 0.1025)" vector-effect="non-scaling-stroke" stroke-width="1.35"/>
<path d="M35 0C59 0 70 19 70 50C70 81 59 100 35 100C11 100 0 81 0 50C0 19 11 0 35 0Z" transform="translate(95.90 911.30) scale(0.1829 0.1820)" vector-effect="non-scaling-stroke"/>
<path d="M0 21L25 0V100" transform="translate(196.90 911.30) scale(0.1800 0.1820)" vector-effect="non-scaling-stroke"/>
<path d="M3 28C3 11 17 0 34 0C51 0 64 12 64 28C64 40 58 48 48 57L0 100H66" transform="translate(291.40 911.30) scale(0.1848 0.1820)" vector-effect="non-scaling-stroke"/>
<path d="M4 0H62L30 40C51 39 66 53 66 70C66 88 52 100 33 100C18 100 6 93 0 82" transform="translate(389.40 911.30) scale(0.1924 0.1820)" vector-effect="non-scaling-stroke"/>
<path d="M54 100V0L0 69H78" transform="translate(486.10 911.30) scale(0.1705 0.1820)" vector-effect="non-scaling-stroke"/>
<path d="M60 0H9L6 42C14 35 24 33 33 33C53 33 68 47 68 66C68 86 53 100 34 100C18 100 6 92 0 82" transform="translate(585.40 911.30) scale(0.1618 0.1820)" vector-effect="non-scaling-stroke"/>
<path d="M0 100V0H34C51 0 62 11 62 25C62 39 51 50 34 50H0M32 50L66 100" transform="translate(294.90 946.40) scale(0.1924 0.1770)" vector-effect="non-scaling-stroke"/>
<path d="M2 65H58C58 45 46 30 30 30C14 30 1 45 1 65C1 86 14 100 30 100C42 100 51 94 56 85" transform="translate(313.40 946.40) scale(0.1586 0.1770)" vector-effect="non-scaling-stroke"/>
<path d="M58 65C58 85 45 100 29 100C13 100 0 85 0 65C0 45 13 30 29 30C45 30 58 45 58 65ZM58 0V100" transform="translate(328.40 946.40) scale(0.1810 0.1770)" vector-effect="non-scaling-stroke"/>
<path d="M47 40C44 33 37 30 27 30C15 30 6 35 6 46C6 56 17 59 27 62C40 65 52 69 52 81C52 93 41 100 27 100C15 100 5 95 0 87" transform="translate(345.20 946.40) scale(0.1635 0.1770)" vector-effect="non-scaling-stroke"/>
<path d="M0 0V100M0 55C3 39 14 30 27 30C41 30 48 40 48 55V100" transform="translate(360.80 946.40) scale(0.2000 0.1770)" vector-effect="non-scaling-stroke"/>
<path d="M0 32V100" transform="translate(377.40 946.40) scale(0.1770 0.1770)" vector-effect="non-scaling-stroke"/><circle cx="377.40" cy="946.90" r="1.45" fill="#000" stroke="none"/>
<path d="M14 100V14C14 5 19 0 28 0H31M0 30H31" transform="translate(383.50 946.40) scale(0.1323 0.1770)" vector-effect="non-scaling-stroke"/>
<path d="M14 0V84C14 94 19 100 28 100H31M0 30H31" transform="translate(393.60 946.40) scale(0.1323 0.1770)" vector-effect="non-scaling-stroke"/>
<path d="M3 28C3 11 17 0 34 0C51 0 64 12 64 28C64 40 58 48 48 57L0 100H66" transform="translate(432.60 53.10) scale(0.1576 0.1780)" vector-effect="non-scaling-stroke"/>
<path d="M60 0H9L6 42C14 35 24 33 33 33C53 33 68 47 68 66C68 86 53 100 34 100C18 100 6 92 0 82" transform="translate(449.40 53.10) scale(0.1735 0.1780)" vector-effect="non-scaling-stroke"/>
<path d="M35 0C59 0 70 19 70 50C70 81 59 100 35 100C11 100 0 81 0 50C0 19 11 0 35 0Z" transform="translate(467.20 53.10) scale(0.1743 0.1780)" vector-effect="non-scaling-stroke"/>
<path d="M3 28C3 11 17 0 34 0C51 0 64 12 64 28C64 40 58 48 48 57L0 100H66" transform="translate(415.30 498.50) scale(0.1621 0.1820)" vector-effect="non-scaling-stroke"/>
<path d="M35 0C59 0 70 19 70 50C70 81 59 100 35 100C11 100 0 81 0 50C0 19 11 0 35 0Z" transform="translate(431.50 498.50) scale(0.1714 0.1820)" vector-effect="non-scaling-stroke"/>
<path d="M4 0H62L30 40C51 39 66 53 66 70C66 88 52 100 33 100C18 100 6 93 0 82" transform="translate(449.00 498.50) scale(0.1621 0.1820)" vector-effect="non-scaling-stroke"/>
<path d="M35 0C59 0 70 19 70 50C70 81 59 100 35 100C11 100 0 81 0 50C0 19 11 0 35 0Z" transform="translate(466.50 498.50) scale(0.1714 0.1820)" vector-effect="non-scaling-stroke"/>
</g></g>
<path d="M501.7 59.40 L496.3 77.40 M500.0 64.80 C499.0 69.00 500.5 71.00 503.5 71.00 C507.0 71.00 509.5 68.00 510.6 63.50 M511.9 59.40 L510.4 68.50 C510.0 70.40 510.6 71.10 511.6 71.10 C512.8 71.10 513.9 70.00 514.5 68.30" fill="none" stroke="#000" stroke-width="1.9" stroke-linecap="butt"/>
<path d="M518.8 58.70 V71.60 M518.8 63.20 C519.5 60.20 521.3 59.00 523.4 59.00 C526.4 59.00 528.3 60.80 528.3 63.60 V71.60 M528.3 63.60 C529.0 60.20 530.9 59.00 533.1 59.00 C536.2 59.00 537.9 60.80 537.9 63.60 V71.60" fill="none" stroke="#000" stroke-width="1.6"/>
<path d="M501.7 505.00 L496.3 523.00 M500.0 510.40 C499.0 514.60 500.5 516.60 503.5 516.60 C507.0 516.60 509.5 513.60 510.6 509.10 M511.9 505.00 L510.4 514.10 C510.0 516.00 510.6 516.70 511.6 516.70 C512.8 516.70 513.9 515.60 514.5 513.90" fill="none" stroke="#000" stroke-width="1.9" stroke-linecap="butt"/>
<path d="M518.8 504.30 V517.20 M518.8 508.80 C519.5 505.80 521.3 504.60 523.4 504.60 C526.4 504.60 528.3 506.40 528.3 509.20 V517.20 M528.3 509.20 C529.0 505.80 530.9 504.60 533.1 504.60 C536.2 504.60 537.9 506.40 537.9 509.20 V517.20" fill="none" stroke="#000" stroke-width="1.6"/>
<g transform="translate(27.8 565.2) rotate(-90)" fill="none" stroke="#000" stroke-width="1.80" stroke-linecap="square">
<path d="M58 65C58 85 45 100 29 100C13 100 0 85 0 65C0 45 13 30 29 30C45 30 58 45 58 65ZM58 0V100" transform="translate(0.90 -19.40) scale(0.1966 0.1850)" vector-effect="non-scaling-stroke"/>
<path d="M0 0V100" transform="translate(19.90 -19.40) scale(0.1850 0.1850)" vector-effect="non-scaling-stroke"/>
<path d="M0 136L85 -20" transform="translate(26.50 -19.40) scale(0.1812 0.1850)" vector-effect="non-scaling-stroke"/>
<path d="M58 65C58 85 45 100 29 100C13 100 0 85 0 65C0 45 13 30 29 30C45 30 58 45 58 65ZM58 0V100" transform="translate(48.10 -19.40) scale(0.1879 0.1850)" vector-effect="non-scaling-stroke"/>
<path d="M0 30H50L0 100H50" transform="translate(67.00 -19.40) scale(0.1660 0.1850)" vector-effect="non-scaling-stroke"/>
<path d="M46 -23A93 93 0 0 0 46 138" transform="translate(98.40 -19.40) scale(0.1326 0.1850)" vector-effect="non-scaling-stroke"/>
<path d="M46 0V68C46 88 36 100 23 100C10 100 2 91 0 80" transform="translate(110.40 -19.40) scale(0.1891 0.1850)" vector-effect="non-scaling-stroke"/>
<path d="M0 30L34 99M68 30L22 136" transform="translate(125.40 -19.40) scale(0.1647 0.1850)" vector-effect="non-scaling-stroke"/>
<path d="M47 40C44 33 37 30 27 30C15 30 6 35 6 46C6 56 17 59 27 62C40 65 52 69 52 81C52 93 41 100 27 100C15 100 5 95 0 87" transform="translate(157.20 -19.40) scale(0.1885 0.1850)" vector-effect="non-scaling-stroke"/>
<path d="M0 30V100M0 55C3 39 13 30 28 30H36" transform="translate(174.20 -19.40) scale(0.1806 0.1850)" vector-effect="non-scaling-stroke"/>
<path d="M0 -23A93 93 0 0 1 0 138" transform="translate(213.70 -19.40) scale(0.1304 0.1850)" vector-effect="non-scaling-stroke"/>
<path d="M186.1 -20.3H195.5" stroke-width="1.35"/>
<path d="M0 21L25 0V100" transform="translate(202.18 -26.32) scale(0.1300 0.1075)" vector-effect="non-scaling-stroke" stroke-width="1.35"/>
</g>
</svg></body></html>
